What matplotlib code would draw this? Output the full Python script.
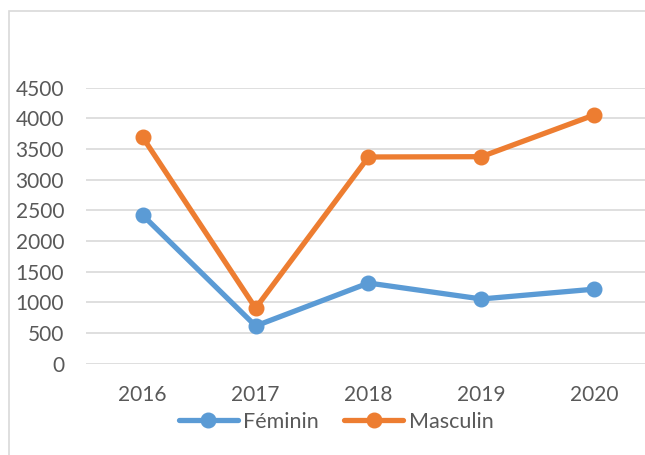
import matplotlib
matplotlib.use('Agg')
import matplotlib.pyplot as plt
import matplotlib.patches as patches

years = ['2016', '2017', '2018', '2019', '2020']
feminin = [2420, 615, 1315, 1055, 1215]
masculin = [3690, 905, 3370, 3375, 4055]
yticks = [0, 500, 1000, 1500, 2000, 2500, 3000, 3500, 4000, 4500]

plt.rcParams['font.family'] = ['Lato', 'DejaVu Sans']

fig = plt.figure(figsize=(6.45, 4.55), dpi=100)
# light frame of the chart area (runs off right and bottom edge)
fig.patches.append(patches.Rectangle((0.0147, -0.1), 1.2, 0.9758 + 0.1, transform=fig.transFigure,
                                     fill=False, edgecolor='#D9D9D9', linewidth=1.2))

ax = fig.add_axes([0.1338, 0.2007, 0.875, 0.6066])
x = list(range(len(years)))
ax.plot(x, feminin, color='#5B9BD5', linewidth=3.8, marker='o', markersize=10.5,
        label='Féminin', clip_on=False, solid_capstyle='round', zorder=3)
ax.plot(x, masculin, color='#ED7D31', linewidth=3.8, marker='o', markersize=10.5,
        label='Masculin', clip_on=False, solid_capstyle='round', zorder=3)

ax.set_xlim(-0.5, 4.5)
ax.set_ylim(0, 4500)
ax.set_xticks(x)
ax.set_xticklabels(years)
ax.set_yticks(yticks)
ax.tick_params(axis='both', length=0, labelsize=15, labelcolor='#595959')
ax.tick_params(axis='y', pad=16)
ax.tick_params(axis='x', pad=15)
ax.yaxis.grid(True, color='#D9D9D9', linewidth=1.2)
ax.set_axisbelow(True)
for s in ax.spines.values():
    s.set_visible(False)

leg = fig.legend(loc='center', bbox_to_anchor=(0.521, 0.0732), ncol=2, frameon=False,
                 fontsize=15.5, handlelength=2.75, handletextpad=0.25, columnspacing=1.15)
for t in leg.get_texts():
    t.set_color('#595959')

fig.savefig('out.png', dpi=100)
